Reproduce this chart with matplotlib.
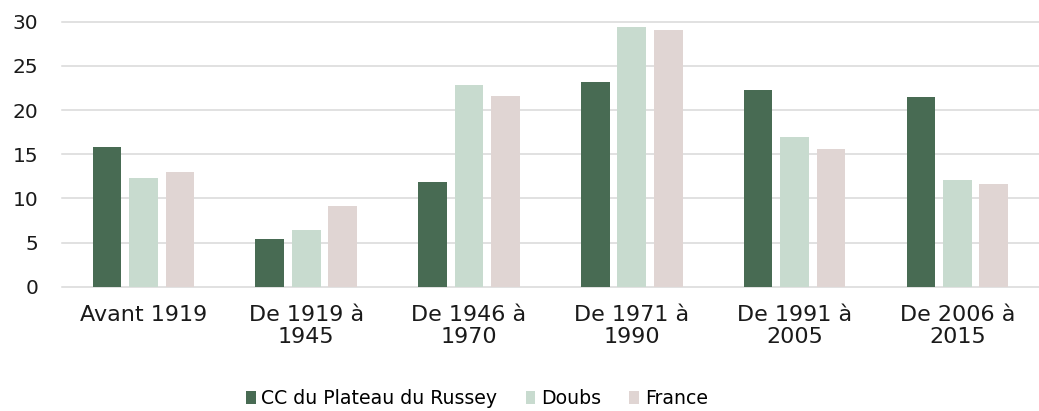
import numpy as np
import matplotlib.pyplot as plt

categories = ['Avant 1919', 'De 1919 à\n1945', 'De 1946 à\n1970', 'De 1971 à\n1990',
              'De 1991 à\n2005', 'De 2006 à\n2015']
series_names = ['CC du Plateau du Russey', 'Doubs', 'France']
russey = [15.8, 5.4, 11.9, 23.2, 22.3, 21.5]
doubs = [12.3, 6.4, 22.8, 29.4, 17.0, 12.1]
france = [13.0, 9.1, 21.6, 29.1, 15.6, 11.6]
colors = ['#486B53', '#C8DBCF', '#E0D5D3']

plt.rcParams['font.family'] = ['DejaVu Sans']

fig = plt.figure(figsize=(10.39, 4.11), dpi=100)
ax = fig.add_axes([0.0597, 0.3024, 0.94, 0.6448])

x = np.arange(len(categories))
width = 0.176
step = 0.224
for i, (vals, name) in enumerate(zip([russey, doubs, france], series_names)):
    ax.bar(x + (i - 1) * step, vals, width, color=colors[i], label=name, zorder=3)

ax.set_xlim(-0.5, len(categories) - 0.5)
ax.set_ylim(0, 30)
ax.set_yticks(range(0, 31, 5))
for v in range(0, 31, 5):
    ax.axhline(v, color='#D9D9D9', linewidth=1.1, zorder=1, clip_on=False)
ax.set_xticks(x)
ax.set_xticklabels(categories, fontsize=16, color='#1a1a1a', linespacing=1.12)
ax.tick_params(axis='y', labelsize=14.5, colors='#1a1a1a', length=0, pad=17)
ax.tick_params(axis='x', length=0, pad=13)
for s in ax.spines.values():
    s.set_visible(False)

fig.legend(loc='center', bbox_to_anchor=(0.459, 0.03), ncol=3, frameon=False,
           fontsize=13.6, handlelength=0.52, handleheight=0.68, handletextpad=0.3,
           columnspacing=1.5)

fig.savefig('out.png', dpi=100)
